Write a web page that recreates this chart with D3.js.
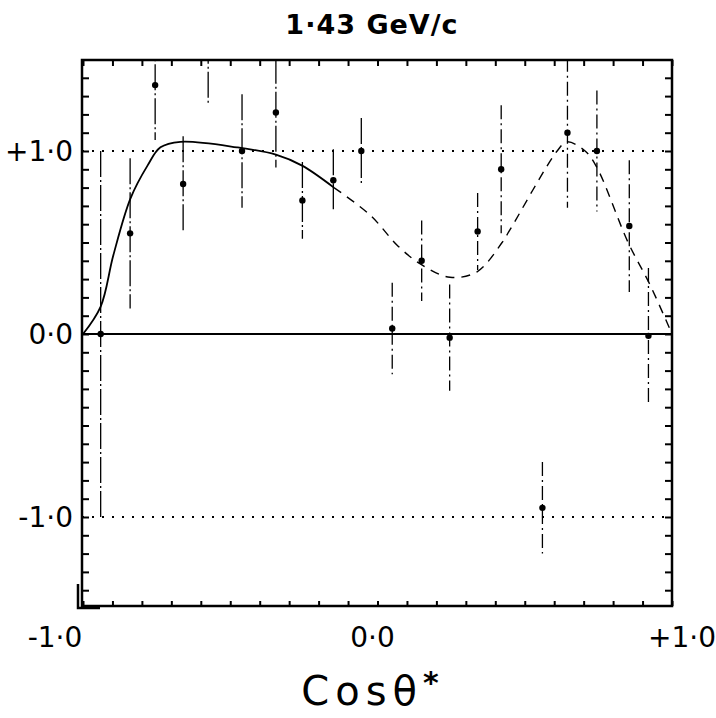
<!DOCTYPE html>
<html>
<head>
<meta charset="utf-8">
<script src="https://cdn.jsdelivr.net/npm/d3@7"></script>
<style>
  html, body { margin: 0; padding: 0; background: #fff; }
  svg { display: block; }
  text { font-family: "DejaVu Sans", "Liberation Sans", sans-serif; fill: #000; }
  .tick line { stroke: #000; stroke-width: 2; }
</style>
</head>
<body>
<div id="chart"></div>
<script>
// measured points: cos(theta*), polarisation value, error
const pointCos = [-0.94, -0.84, -0.755, -0.66, -0.575, -0.46, -0.345, -0.255, -0.15, -0.055,
                  0.05, 0.15, 0.245, 0.34, 0.42, 0.56, 0.645, 0.745, 0.855, 0.92];
const pointVal = [0.0, 0.55, 1.36, 0.82, 1.62, 1.0, 1.21, 0.73, 0.84, 1.0,
                  0.03, 0.40, -0.02, 0.56, 0.9, -0.95, 1.1, 1.0, 0.59, -0.01];
const pointErr = [1.0, 0.41, 0.30, 0.26, 0.37, 0.31, 0.30, 0.21, 0.17, 0.18,
                  0.25, 0.22, 0.29, 0.21, 0.35, 0.25, 0.41, 0.33, 0.36, 0.37];

// fitted curve, solid part then dashed part
const fitCos = [-1.0, -0.94, -0.897, -0.839, -0.781, -0.737, -0.669, -0.477, -0.345, -0.256, -0.148,
                -0.025, 0.07, 0.148, 0.246, 0.338, 0.423, 0.45, 0.61, 0.643, 0.705, 0.745, 0.851, 0.925, 1.0];
const fitVal = [0.0, 0.15, 0.43, 0.74, 0.92, 1.02, 1.05, 1.02, 0.98, 0.92, 0.80,
                0.65, 0.48, 0.38, 0.31, 0.34, 0.50, 0.57, 1.0, 1.05, 1.0, 0.91, 0.50, 0.27, 0.0];
const solidUntil = -0.148;

const xLabelValues = [-1, 0, 1];
const xLabelText = ["-1·0", "0·0", "+1·0"];
const yLabelValues = [1, 0, -1];
const yLabelText = ["+1·0", "0·0", "-1·0"];
const dottedLevels = [1, -1];

const width = 716, height = 718;

const svg = d3.select("#chart").append("svg")
  .attr("width", width)
  .attr("height", height);

const x = d3.scaleLinear().domain([-1, 1]).range([83, 672]);
const y = d3.scaleLinear().domain([-1, 1]).range([517, 151]);
const yTop = y.invert(60), yBottom = y.invert(606);

const frameL = x(-1) - 1, frameR = x(1), frameT = y(yTop), frameB = y(yBottom);

svg.append("clipPath").attr("id", "clip")
  .append("rect")
  .attr("x", frameL).attr("y", frameT)
  .attr("width", frameR - frameL).attr("height", frameB - frameT);

// inward ticks every 0.1
const tickY = d3.scaleLinear().domain([yBottom, yTop]).range([frameB, frameT]);

svg.append("g")
  .attr("transform", `translate(0,${frameT})`)
  .call(d3.axisTop(x).ticks(20).tickSize(-6).tickFormat(""))
  .call(g => g.select(".domain").remove());

svg.append("g")
  .attr("transform", `translate(0,${frameB})`)
  .call(d3.axisBottom(x).ticks(20).tickSize(-5).tickFormat(""))
  .call(g => g.select(".domain").remove());

svg.append("g")
  .attr("transform", `translate(${frameL},0)`)
  .call(d3.axisLeft(tickY).ticks(30).tickSize(-7).tickFormat(""))
  .call(g => g.select(".domain").remove());

svg.append("g")
  .attr("transform", `translate(${frameR},0)`)
  .call(d3.axisRight(tickY).ticks(30).tickSize(-7).tickFormat(""))
  .call(g => g.select(".domain").remove());

// dotted reference lines at +1 and -1
svg.selectAll(".ref")
  .data(dottedLevels)
  .enter()
  .append("line")
  .attr("x1", frameL).attr("x2", frameR)
  .attr("y1", d => y(d)).attr("y2", d => y(d))
  .attr("stroke", "#000")
  .attr("stroke-width", 2)
  .attr("stroke-dasharray", "2,8");

// zero line
svg.append("line")
  .attr("x1", frameL).attr("x2", frameR)
  .attr("y1", y(0)).attr("y2", y(0))
  .attr("stroke", "#000")
  .attr("stroke-width", 2.2);

// frame
svg.append("rect")
  .attr("x", frameL).attr("y", frameT)
  .attr("width", frameR - frameL).attr("height", frameB - frameT)
  .attr("fill", "none")
  .attr("stroke", "#000")
  .attr("stroke-width", 2.5);

// small scan mark at bottom left corner
svg.append("path")
  .attr("d", `M${frameL - 4},${frameB - 22} V${frameB + 2} H${frameL + 18}`)
  .attr("fill", "none")
  .attr("stroke", "#000")
  .attr("stroke-width", 2.5);

const plot = svg.append("g").attr("clip-path", "url(#clip)");

// error bars
const points = pointCos.map((c, i) => ({ c, v: pointVal[i], e: pointErr[i] }));

plot.selectAll(".err")
  .data(points)
  .enter()
  .append("line")
  .attr("x1", d => x(d.c)).attr("x2", d => x(d.c))
  .attr("y1", d => y(d.v + d.e)).attr("y2", d => y(d.v - d.e))
  .attr("stroke", "#000")
  .attr("stroke-width", 1.3)
  .attr("stroke-dasharray", (d, i) => i < 10 ? "26,3,2,3" : "14,4,2,4");

plot.selectAll(".pt")
  .data(points)
  .enter()
  .append("circle")
  .attr("cx", d => x(d.c))
  .attr("cy", d => y(d.v))
  .attr("r", 3.2)
  .attr("fill", "#000");

// fitted curve
const fit = fitCos.map((c, i) => ({ c, v: fitVal[i] }));
const line = d3.line()
  .x(d => x(d.c))
  .y(d => y(d.v))
  .curve(d3.curveCatmullRom.alpha(0.5));

plot.append("path")
  .attr("d", line(fit.filter(d => d.c <= solidUntil)))
  .attr("fill", "none")
  .attr("stroke", "#000")
  .attr("stroke-width", 1.8);

plot.append("path")
  .attr("d", line(fit.filter(d => d.c >= solidUntil)))
  .attr("fill", "none")
  .attr("stroke", "#000")
  .attr("stroke-width", 1.4)
  .attr("stroke-dasharray", "9,7");

// tick labels
svg.selectAll(".ylab")
  .data(yLabelValues)
  .enter()
  .append("text")
  .attr("x", 73)
  .attr("y", d => y(d))
  .attr("dy", "0.36em")
  .attr("text-anchor", "end")
  .style("font-size", "28px")
  .text((d, i) => yLabelText[i]);

svg.selectAll(".xlab")
  .data(xLabelValues)
  .enter()
  .append("text")
  .attr("x", (d, i) => i === 0 ? 55 : i === 2 ? 682 : x(d) - 5)
  .attr("y", 647)
  .attr("text-anchor", "middle")
  .style("font-size", "28px")
  .text((d, i) => xLabelText[i]);

// title and axis title
svg.append("text")
  .attr("x", 372)
  .attr("y", 34)
  .attr("text-anchor", "middle")
  .style("font-size", "27px")
  .style("font-weight", "bold")
  .style("letter-spacing", "1px")
  .text("1·43 GeV/c");

const axisTitle = svg.append("text")
  .attr("x", 373)
  .attr("y", 705)
  .attr("text-anchor", "middle")
  .style("font-size", "40px")
  .style("letter-spacing", "6px");
axisTitle.append("tspan").text("Cosθ");
axisTitle.append("tspan").attr("dy", -12).style("font-size", "30px").style("font-weight", "bold").text("*");
</script>
</body>
</html>
